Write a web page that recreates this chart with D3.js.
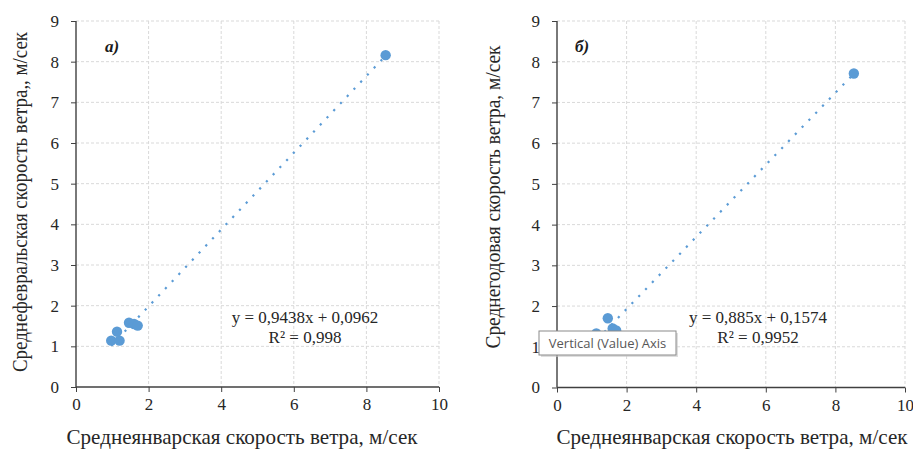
<!DOCTYPE html>
<html>
<head>
<meta charset="utf-8">
<script src="https://cdn.jsdelivr.net/npm/d3@7"></script>
<style>
  body { margin: 0; background: #fff; }
  svg { display: block; }
  .serif { font-family: 'Liberation Serif', 'Times New Roman', serif; fill: #262626; }
</style>
</head>
<body>
<svg id="chart" width="913" height="450"></svg>
<script>
// January mean wind speed (shared x) and the two y series
const janSpeed   = [0.97, 1.2, 1.13, 1.46, 1.6, 1.7, 8.53];
const febSpeed   = [1.14, 1.14, 1.36, 1.58, 1.55, 1.51, 8.16];
const yearSpeed  = [1.05, 1.2, 1.33, 1.70, 1.45, 1.40, 7.71];

const xTicks = [0, 2, 4, 6, 8, 10];
const yTicks = [0, 1, 2, 3, 4, 5, 6, 7, 8, 9];

const xTitle = 'Среднеянварская скорость ветра, м/сек';

const panels = [
  { tag: 'а)', ys: febSpeed, slope: 0.9438, icpt: 0.0962,
    eq: 'y = 0,9438x + 0,0962', r2: 'R² = 0,998',
    yTitle: 'Среднефевральская скорость ветра,, м/сек', yTitleLen: 340, yTitleY: 202,
    left: 76, right: 439, top: 21, bottom: 387,
    yTitleX: 20, eqX: 305, tagX: 112, xTitleX: 242 },
  { tag: 'б)', ys: yearSpeed, slope: 0.885, icpt: 0.1574,
    eq: 'y = 0,885x + 0,1574', r2: 'R² = 0,9952',
    yTitle: 'Среднегодовая скорость ветра, м/сек', yTitleLen: 303, yTitleY: 197,
    left: 557, right: 905, top: 21, bottom: 387.5,
    yTitleX: 493, eqX: 758, tagX: 582, xTitleX: 732 },
];

const BLUE = '#5b9bd5';
const svg = d3.select('#chart');

panels.forEach(p => {
  const x = d3.scaleLinear().domain([0, 10]).range([p.left, p.right]);
  const y = d3.scaleLinear().domain([0, 9]).range([p.bottom, p.top]);
  const g = svg.append('g');

  // gridlines
  g.selectAll('.vg').data(xTicks.slice(1)).join('line')
    .attr('x1', d => x(d)).attr('x2', d => x(d))
    .attr('y1', p.top).attr('y2', p.bottom)
    .attr('stroke', '#d9d9d9').attr('stroke-dasharray', '3,2');
  g.selectAll('.hg').data(yTicks.slice(1)).join('line')
    .attr('x1', p.left).attr('x2', p.right)
    .attr('y1', d => y(d)).attr('y2', d => y(d))
    .attr('stroke', '#d9d9d9').attr('stroke-dasharray', '3,2');

  // axes
  const xa = g.append('g').attr('transform', `translate(0,${p.bottom})`)
    .call(d3.axisBottom(x).tickValues(xTicks).tickSize(5).tickPadding(6).tickFormat(d3.format('d')));
  const ya = g.append('g').attr('transform', `translate(${p.left},0)`)
    .call(d3.axisLeft(y).tickValues(yTicks).tickSize(5).tickPadding(12).tickFormat(d3.format('d')));
  [xa, ya].forEach(a => {
    a.attr('font-family', null).attr('font-size', null);
    a.select('.domain').attr('stroke', '#404040').attr('stroke-width', 1.4);
    a.selectAll('.tick line').attr('stroke', '#404040');
    a.selectAll('.tick text').attr('class', 'serif').style('font-size', '17px').attr('fill', null);
  });
  xa.select('.domain').attr('d', `M${p.left},0H${p.right}`);
  ya.select('.domain').attr('d', `M0,${p.bottom}V${p.top}`);

  // trendline
  const x0 = d3.min(janSpeed), x1 = d3.max(janSpeed);
  g.append('line')
    .attr('x1', x(x0)).attr('y1', y(p.slope * x0 + p.icpt))
    .attr('x2', x(x1)).attr('y2', y(p.slope * x1 + p.icpt))
    .attr('stroke', BLUE).attr('stroke-width', 2.2)
    .attr('stroke-dasharray', '2.2,7.6');

  // points
  g.selectAll('circle').data(janSpeed).join('circle')
    .attr('cx', d => x(d)).attr('cy', (d, i) => y(p.ys[i]))
    .attr('r', 5.2).attr('fill', BLUE);

  // equation
  g.append('text').attr('class', 'serif').attr('x', p.eqX).attr('y', 323).attr('text-anchor', 'middle')
    .style('font-size', '17px').text(p.eq);
  g.append('text').attr('class', 'serif').attr('x', p.eqX).attr('y', 343).attr('text-anchor', 'middle')
    .style('font-size', '17px').text(p.r2);

  // panel tag
  g.append('text').attr('class', 'serif').attr('x', p.tagX).attr('y', 52).attr('text-anchor', 'middle')
    .style('font-size', '17px').attr('font-weight', 'bold')
    .attr('font-style', 'italic').style('fill', '#1a1a1a').text(p.tag);

  // axis titles
  g.append('text').attr('class', 'serif').attr('x', p.xTitleX).attr('y', 444)
    .attr('text-anchor', 'middle').style('font-size', '21px')
    .attr('textLength', 351).attr('lengthAdjust', 'spacingAndGlyphs').text(xTitle);
  g.append('text').attr('class', 'serif')
    .attr('transform', `translate(${p.yTitleX},${p.yTitleY}) rotate(-90)`)
    .attr('dy', '0.35em').attr('text-anchor', 'middle').style('font-size', '20px')
    .attr('textLength', p.yTitleLen).attr('lengthAdjust', 'spacingAndGlyphs').text(p.yTitle);
});

// tooltip captured in the screenshot
const tip = svg.append('g').attr('transform', 'translate(539,331)');
tip.append('rect').attr('x', 2).attr('y', 2).attr('width', 137).attr('height', 24)
  .attr('fill', '#c8c8c8').attr('opacity', 0.6);
tip.append('rect').attr('width', 137).attr('height', 24)
  .attr('fill', '#fff').attr('stroke', '#8a8a8a');
tip.append('text').attr('x', 68.5).attr('y', 17).attr('text-anchor', 'middle')
  .attr('font-family', "'Open Sans', 'Noto Sans', sans-serif").attr('font-size', 13)
  .attr('fill', '#575757').text('Vertical (Value) Axis');
</script>
</body>
</html>
